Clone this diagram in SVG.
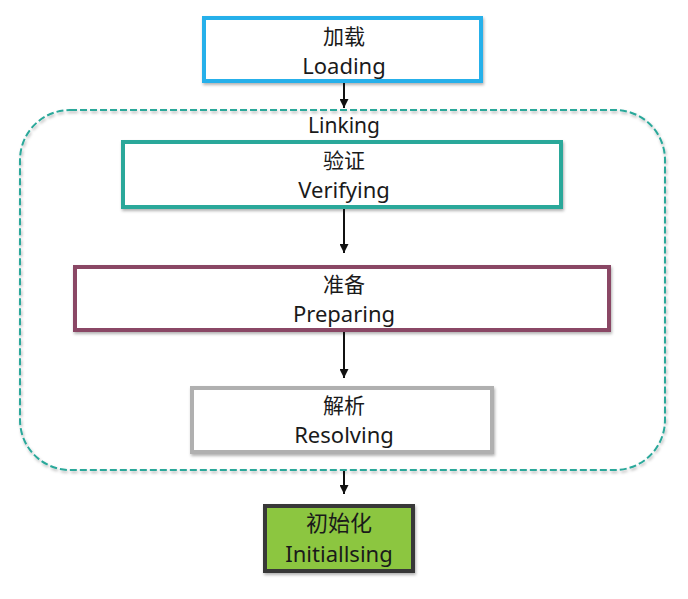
<svg xmlns="http://www.w3.org/2000/svg" width="688" height="599" viewBox="0 0 688 599">
<defs>
<filter id="sh" x="-10%" y="-10%" width="120%" height="130%">
<feDropShadow dx="1" dy="2" stdDeviation="1.5" flood-color="#000" flood-opacity="0.3"/>
</filter>
<marker id="arr" viewBox="0 0 10 10" refX="10" refY="5" markerWidth="9" markerHeight="9" orient="auto" markerUnits="userSpaceOnUse">
<path d="M0,0 L10,5 L0,10 z" fill="#111"/>
</marker>
</defs>
<style>
text{font-family:"Noto Sans","Noto Sans CJK SC",sans-serif;font-size:22px;fill:#1a1a1a;text-anchor:middle}
.cjk{font-family:"Noto Sans CJK SC",sans-serif;font-size:21px}
.box{fill:#fff;stroke-width:4;filter:url(#sh)}
.conn line{stroke:#111;stroke-width:2;marker-end:url(#arr)}
</style>
<rect width="688" height="599" fill="#fff"/>
<g id="linking">
<rect x="20" y="110" width="645" height="360" rx="50" ry="50" fill="none" stroke="#2aa89a" stroke-width="2" stroke-dasharray="7,3" filter="url(#sh)"/>
<text x="344" y="133" style="font-size:21px">Linking</text>
</g>
<g id="loading">
<rect class="box" x="204" y="18" width="277" height="63" stroke="#27b0ea"/>
<text class="cjk" x="344" y="44">加载</text>
<text x="344" y="74">Loading</text>
</g>
<g id="verifying">
<rect class="box" x="123" y="142" width="438" height="65" stroke="#2aa89a"/>
<text class="cjk" x="344" y="168">验证</text>
<text x="344" y="198">Verifying</text>
</g>
<g id="preparing">
<rect class="box" x="75" y="267" width="534" height="63" stroke="#8a4765"/>
<text class="cjk" x="344" y="292">准备</text>
<text x="344" y="322">Preparing</text>
</g>
<g id="resolving">
<rect class="box" x="192" y="388" width="300" height="64" stroke="#b0b0b0"/>
<text class="cjk" x="344" y="413">解析</text>
<text x="344" y="443">Resolving</text>
</g>
<g id="initialising">
<rect x="265" y="506" width="148" height="65" fill="#8cc63f" stroke="#383838" stroke-width="4" filter="url(#sh)"/>
<text class="cjk" x="339" y="531" style="font-size:22px">初始化</text>
<text x="339" y="562" style="font-size:22px">Initiallsing</text>
</g>
<g class="conn" id="connectors">
<line x1="344" y1="83" x2="344" y2="108"/>
<line x1="344" y1="209" x2="344" y2="253"/>
<line x1="344" y1="332" x2="344" y2="378"/>
<line x1="344" y1="471" x2="344" y2="494"/>
</g>
</svg>
